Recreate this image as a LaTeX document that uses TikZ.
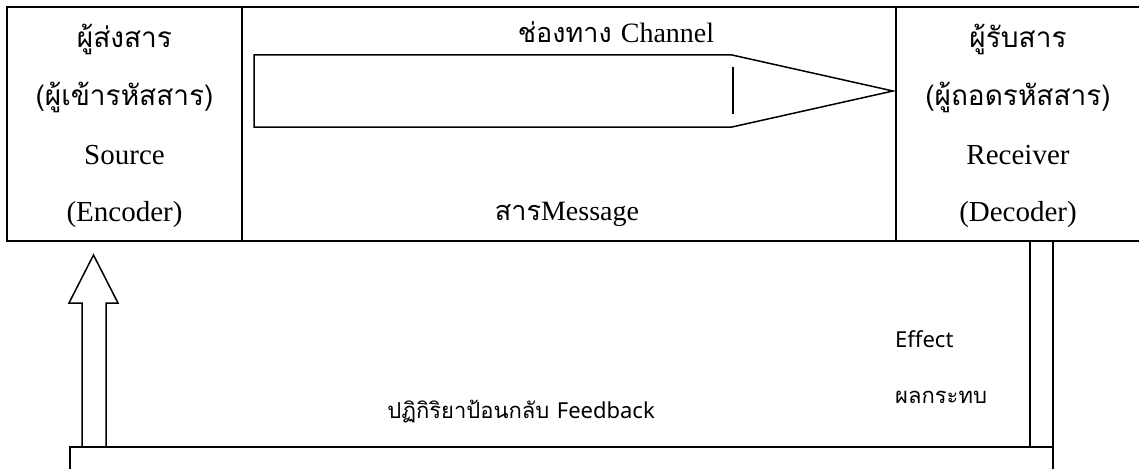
\documentclass[tikz,border=0pt]{standalone}
\usepackage{fontspec}
\setmainfont{Liberation Serif}
\newfontfamily\thaifont[Script=Thai]{Loma}
\newfontfamily\sanslat{Noto Sans}
\begin{document}
\begin{tikzpicture}[x=1pt,y=-1pt,
  outer/.style={line width=2pt},
  divline/.style={line width=1.2pt},
  shapeline/.style={line width=1.5pt},
  serl/.style={anchor=base,inner sep=0pt,font=\fontsize{29}{32}\selectfont},
  thl/.style={anchor=base,inner sep=0pt,font=\thaifont\fontsize{28}{32}\selectfont},
  sansl/.style={inner sep=0pt,font=\fontsize{22}{26}\selectfont}]
\useasboundingbox (0,0) rectangle (1139,468);
% top box
\draw[outer] (1139,7) -- (7,7) -- (7,241) -- (1139,241);
\draw[divline] (242,7) -- (242,241);
\draw[divline] (896,7) -- (896,241);
% left cell texts
\node[thl] (s1) at (124.5,48) {ผู้ส่งสาร};
\node[thl] (s2) at (124.5,106) {(ผู้เข้ารหัสสาร)};
\node[serl] (s3) at (124.5,164) {Source};
\node[serl] (s4) at (124.5,221) {(Encoder)};
% right cell texts
\node[thl] (r1) at (1018,48) {ผู้รับสาร};
\node[thl] (r2) at (1018,106) {(ผู้ถอดรหัสสาร)};
\node[serl] (r3) at (1018,164) {Receiver};
\node[serl] (r4) at (1018,221) {(Decoder)};
% channel
\node[anchor=base,inner sep=0pt] (ch) at (616,43) {\fontsize{27}{30}\selectfont\thaifont ช่องทาง \fontsize{28}{30}\rmfamily Channel};
\node[anchor=base,inner sep=0pt] (msg) at (567,220) {\fontsize{27}{30}\selectfont\thaifont สาร\fontsize{28}{30}\rmfamily Message};
\coordinate (cA) at (254,55);
\coordinate (cB) at (732,55);
\coordinate (cT) at (893,91);
\coordinate (cC) at (732,127);
\coordinate (cD) at (254,127);
\draw[shapeline] (cA) -- (cB) -- (cT) -- (cC) -- (cD) -- cycle;
\coordinate (vA) at (733,67);
\coordinate (vB) at (733,114);
\draw[shapeline] (vA) -- (vB);
% feedback arrow
\coordinate (f1) at (82,447);
\coordinate (f2) at (82,303);
\coordinate (f3) at (69,303);
\coordinate (f4) at (93.5,255);
\coordinate (f5) at (118,303);
\coordinate (f6) at (106,303);
\coordinate (f7) at (106,447);
\draw[shapeline] (f1) -- (f2) -- (f3) -- (f4) -- (f5) -- (f6) -- (f7);
% bottom rectangle
\coordinate (b1) at (70,470);
\coordinate (b2) at (70,447);
\coordinate (b3) at (1053,447);
\coordinate (b4) at (1053,470);
\draw[shapeline] (b1) -- (b2) -- (b3) -- (b4);
% effect bars
\coordinate (e1) at (1030,241);
\coordinate (e2) at (1030,447);
\coordinate (e3) at (1053,241);
\draw[shapeline] (e1) -- (e2);
\draw[shapeline] (e3) -- (b3);
% lower texts
\node[sansl,anchor=base west] (eff) at (895,347) {\sanslat Effect};
\node[sansl,anchor=base west] (pk) at (895,403) {\thaifont ผลกระทบ};
\node[sansl,anchor=base east] (fb) at (655,418) {\thaifont ปฏิกิริยาป้อนกลับ \sanslat Feedback};
\end{tikzpicture}
\end{document}
